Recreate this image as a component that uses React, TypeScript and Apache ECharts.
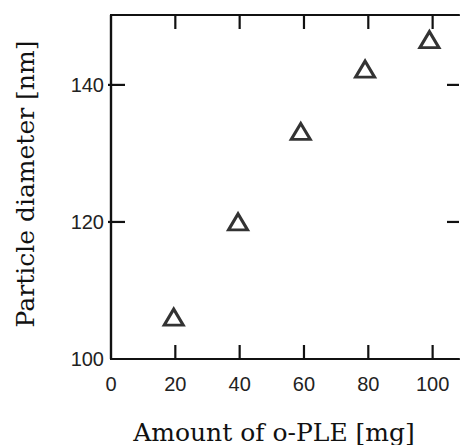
import React, { useEffect, useRef } from "react";
import * as echarts from "echarts";

const amounts = [19.5, 39.5, 59, 79, 99];
const diameters = [106.1, 120.0, 133.2, 142.3, 146.6];
const xLabelValues = [0, 20, 40, 60, 80, 100];
const yLabelValues = [100, 120, 140];
const xTickValues = [20, 40, 60, 80, 100];
const yTickValues = [120, 140];
const xTitle = "Amount of o-PLE [mg]";
const yTitle = "Particle diameter [nm]";

const X_MIN = 0;
const X_MAX = 108.2;
const Y_MIN = 100;
const Y_MAX = 150.2;

export default function App() {
  const ref = useRef<HTMLDivElement>(null);
  useEffect(() => {
    if (!ref.current) return;
    const chart = echarts.init(ref.current, null, { renderer: "svg" });
    const axisColor = "#111";
    const labelStyle = {
      fontFamily: "Liberation Sans",
      fontSize: 20,
      color: "#222",
    };
    const line = { show: true, lineStyle: { color: axisColor, width: 2.2 } };
    const xFmt = (v: number) => (xLabelValues.includes(v) ? String(v) : "");
    const yFmt = (v: number) => (yLabelValues.includes(v) ? String(v) : "");
    const tickStyle = { stroke: axisColor, lineWidth: 2.2 };
    chart.setOption({
      animation: false,
      backgroundColor: "#fff",
      grid: { left: 111, top: 15, right: 1, bottom: 86 },
      xAxis: [
        {
          type: "value",
          position: "bottom",
          min: X_MIN,
          max: X_MAX,
          interval: 20,
          axisLine: line,
          axisTick: { show: false },
          axisLabel: { ...labelStyle, margin: 15, formatter: xFmt, showMaxLabel: false },
          splitLine: { show: false },
        },
        {
          type: "value",
          position: "top",
          min: X_MIN,
          max: X_MAX,
          interval: 20,
          axisLine: line,
          axisTick: { show: false },
          axisLabel: { show: false },
          splitLine: { show: false },
        },
      ],
      yAxis: [
        {
          type: "value",
          position: "left",
          min: Y_MIN,
          max: Y_MAX,
          interval: 20,
          axisLine: line,
          axisTick: { show: false },
          axisLabel: {
            ...labelStyle,
            margin: 7,
            padding: [8, 0, 0, 0],
            formatter: yFmt,
            showMaxLabel: false,
          },
          splitLine: { show: false },
        },
        {
          type: "value",
          position: "right",
          min: Y_MIN,
          max: Y_MAX,
          interval: 20,
          axisLine: line,
          axisTick: { show: false },
          axisLabel: { show: false },
          splitLine: { show: false },
        },
      ],
      graphic: [
        {
          type: "text",
          x: 274,
          y: 432,
          style: {
            text: xTitle,
            fontFamily: "DejaVu Serif",
            fontSize: 25,
            fill: "#111",
            textAlign: "center",
            textVerticalAlign: "middle",
          },
        },
        {
          type: "text",
          x: 25,
          y: 184,
          rotation: Math.PI / 2,
          style: {
            text: yTitle,
            fontFamily: "DejaVu Serif",
            fontSize: 25,
            fill: "#111",
            textAlign: "center",
            textVerticalAlign: "middle",
          },
        },
      ],
      series: [
        {
          type: "custom",
          xAxisIndex: 0,
          yAxisIndex: 0,
          clip: false,
          silent: true,
          data: xTickValues.map((v) => [v]),
          renderItem: (params: any, api: any) => {
            const v = api.value(0);
            const b = api.coord([v, Y_MIN]);
            const t = api.coord([v, Y_MAX]);
            return {
              type: "group",
              children: [
                { type: "line", shape: { x1: b[0], y1: b[1], x2: b[0], y2: b[1] - 14 }, style: tickStyle },
                { type: "line", shape: { x1: t[0], y1: t[1], x2: t[0], y2: t[1] + 14 }, style: tickStyle },
              ],
            };
          },
        },
        {
          type: "custom",
          xAxisIndex: 0,
          yAxisIndex: 0,
          clip: false,
          silent: true,
          data: yTickValues.map((v) => [v]),
          renderItem: (params: any, api: any) => {
            const v = api.value(0);
            const l = api.coord([X_MIN, v]);
            const r = api.coord([X_MAX, v]);
            return {
              type: "group",
              children: [
                { type: "line", shape: { x1: l[0] - 3, y1: l[1], x2: l[0] + 14, y2: l[1] }, style: tickStyle },
                { type: "line", shape: { x1: r[0], y1: r[1], x2: r[0] - 12, y2: r[1] }, style: tickStyle },
              ],
            };
          },
          encode: { y: 0 },
        },
        {
          type: "scatter",
          xAxisIndex: 0,
          yAxisIndex: 0,
          symbol: "triangle",
          symbolSize: [19, 16],
          itemStyle: { color: "#fff", borderColor: "#000", borderWidth: 3 },
          data: amounts.map((a, i) => [a, diameters[i]]),
        },
      ],
    });
    return () => chart.dispose();
  }, []);
  return (
    <div
      ref={ref}
      style={{ position: "fixed", left: 0, top: 0, width: 460, height: 445 }}
    />
  );
}
